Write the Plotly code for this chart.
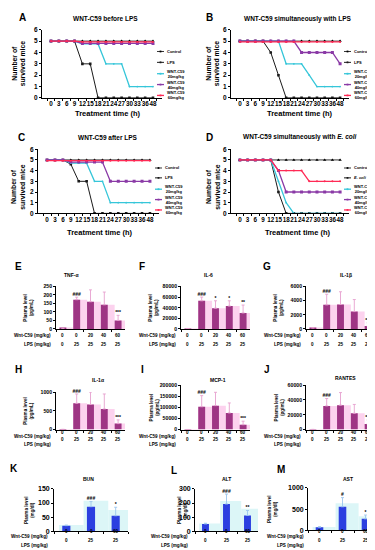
import plotly.graph_objects as go

W, H = 375, 550
FONT = "Liberation Sans, Arial, Helvetica, sans-serif"

# ---------------- Survival data (number of surviving mice) ----------------
times = ["0", "3", "6", "9", "12", "15", "18", "21", "24", "27", "30", "33", "36", "48"]

A_control = [5, 5, 5, 5, 5, 5, 5, 5, 5, 5, 5, 5, 5, 5]
A_lps = [5, 5, 5, 5, 3, 3, 0, 0, 0, 0, 0, 0, 0, 0]
A_c20 = [5, 5, 5, 5, 4.75, 4.75, 4.75, 3, 3, 3, 1, 1, 1, 1]
A_c40 = [5, 5, 5, 5, 4.8, 4.8, 4.8, 4.8, 4.8, 4.8, 4.8, 4.8, 4.8, 4.8]
A_c60 = [5, 5, 5, 5, 4.93, 4.93, 4.93, 4.93, 4.93, 4.93, 4.93, 4.93, 4.93, 4.93]

B_control = [5, 5, 5, 5, 5, 5, 5, 5, 5, 5, 5, 5, 5, 5]
B_lps = [5, 5, 5, 5, 4, 2, 0, 0, 0, 0, 0, 0, 0, 0]
B_c20 = [5, 5, 5, 5, 5, 5, 3, 3, 3, 2, 1, 1, 1, 1]
B_c40 = [5, 5, 5, 5, 5, 5, 5, 5, 4, 4, 4, 4, 4, 3]
B_c60 = [4.93, 4.93, 4.93, 4.93, 4.93, 4.93, 4.93, 4.93, 4.93, 4.93, 4.93, 4.93, 4.93, 4.93]

C_control = [5, 5, 5, 5, 5, 5, 5, 5, 5, 5, 5, 5, 5, 5]
C_lps = [5, 5, 5, 4.6, 3, 3, 0, 0, 0, 0, 0, 0, 0, 0]
C_c20 = [5, 5, 5, 4.7, 4.7, 4.7, 3, 3, 1, 1, 1, 1, 1, 1]
C_c40 = [5, 5, 5, 4.8, 4.8, 4.8, 4.8, 4.8, 3, 3, 3, 3, 3, 3]
C_c60 = [4.93, 4.93, 4.93, 4.93, 4.93, 4.93, 4.93, 4.93, 4.93, 4.93, 4.93, 4.93, 4.93, 4.93]

D_control = [5, 5, 5, 5, 5, 5, 5, 5, 5, 5, 5, 5, 5, 5]
D_ecoli = [5, 5, 5, 5, 5, 2, 0, 0, 0, 0, 0, 0, 0, 0]
D_c20 = [5, 5, 5, 5, 5, 3, 1, 0, 0, 0, 0, 0, 0, 0]
D_c40 = [5, 5, 5, 5, 5, 4, 2, 2, 2, 2, 2, 2, 2, 2]
D_c60 = [5, 5, 5, 5, 5, 4, 4, 4, 4, 3, 3, 3, 3, 3]

surv_names_lps = ["Control", "LPS", "WNT-C59<br>20mg/kg", "WNT-C59<br>40mg/kg", "WNT-C59<br>60mg/kg"]
surv_names_ecoli = ["Control", "<i>E. coli</i>", "WNT-C59<br>20mg/kg", "WNT-C59<br>40mg/kg", "WNT-C59<br>60mg/kg"]

# ---------------- Cytokine data ----------------
wnt_dose5 = ["0", "0", "20", "40", "60"]
lps_dose5 = ["0", "25", "25", "25", "25"]

tnf = [3, 172, 160, 142, 50]
tnf_err = [1, 15, 70, 75, 30]
tnf_sig = ["", "###", "", "", "***"]

il6 = [600, 53000, 39000, 43000, 30000]
il6_err = [300, 7000, 14000, 10000, 15000]
il6_sig = ["", "###", "*", "*", "**"]

il1b = [120, 3400, 3450, 2450, 400]
il1b_err = [60, 1500, 1800, 1700, 450]
il1b_sig = ["", "###", "", "", "***"]

il1a = [5, 700, 670, 550, 160]
il1a_err = [2, 250, 330, 400, 100]
il1a_sig = ["", "###", "", "", "***"]

mcp1 = [500, 103000, 108000, 75000, 22000]
mcp1_err = [200, 50000, 60000, 45000, 16000]
mcp1_sig = ["", "###", "", "", "***"]

rantes = [200, 32000, 33000, 22000, 7500]
rantes_err = [100, 10000, 17000, 12000, 5500]
rantes_sig = ["", "###", "", "", "***"]

# ---------------- Organ function data ----------------
wnt_dose3 = ["0", "0", "60"]
lps_dose3 = ["0", "25", "25"]

bun = [20, 87, 55]
bun_err = [2, 18, 30]
bun_shade = [22, 108, 75]
bun_sig = ["", "###", "*"]

alt = [52, 193, 112]
alt_err = [5, 70, 35]
alt_shade = [55, 215, 160]
alt_sig = ["", "###", "**"]

ast = [75, 555, 270]
ast_err = [10, 215, 90]
ast_shade = [80, 640, 330]
ast_sig = ["", "#", "*"]

# ---------------- helpers ----------------
fig = go.Figure()
lay = dict(width=W, height=H, margin=dict(l=0, r=0, t=0, b=0),
           paper_bgcolor="white", plot_bgcolor="white", showlegend=False,
           barmode="overlay", font=dict(family=FONT, color="black"))
annotations = []
shapes = []
count = [0]


def new_axes(x0, x1, y0, y1, xkw, ykw):
    count[0] += 1
    i = count[0]
    s = "" if i == 1 else str(i)
    lay["xaxis" + s] = dict(domain=[x0 / W, x1 / W], anchor="y" + s, **xkw)
    lay["yaxis" + s] = dict(domain=[1 - y1 / H, 1 - y0 / H], anchor="x" + s, **ykw)
    return "x" + s, "y" + s


def label(x, y, s, size, xanchor="center", angle=0, bold=True, xref="paper"):
    annotations.append(dict(
        x=x / W if xref == "paper" else x, y=1 - y / H, xref=xref, yref="paper",
        text=s, showarrow=False, xanchor=xanchor, yanchor="middle", textangle=angle,
        font=dict(size=size, family=FONT, color="black", weight="bold" if bold else "normal")))


BOLD = dict(family=FONT, color="black", weight="bold")

# ---------------- Survival panels ----------------
S_STYLE = [
    dict(color="black", width=0.8, symbol="triangle-up", size=3),
    dict(color="#1a1a1a", width=1.0, symbol="square", size=2.6),
    dict(color="#36c6d9", width=1.3, symbol="circle", size=1.8),
    dict(color="#8a3aa6", width=1.3, symbol="square", size=3),
    dict(color="#ff2a55", width=1.3, symbol="circle", size=2),
]

surv_panels = [
    ("A", "WNT-C59 before LPS", [A_control, A_lps, A_c20, A_c40, A_c60], surv_names_lps,
     (34, 154, 18, 87), (14, 6), (97, 7), (100, 103), (11, 52), 149),
    ("B", "WNT-C59 simultaneously with LPS", [B_control, B_lps, B_c20, B_c40, B_c60], surv_names_lps,
     (223, 341, 18, 87), (202, 6), (290, 7), (292, 103), (205, 52), 336),
    ("C", "WNT-C59 after LPS", [C_control, C_lps, C_c20, C_c40, C_c60], surv_names_lps,
     (30, 151, 139, 204), (13, 127), (100, 127), (92, 223), (10, 177), 147),
    ("D", "WNT-C59 simultaneously with <i>E. coli</i>", [D_control, D_ecoli, D_c20, D_c40, D_c60], surv_names_ecoli,
     (223, 341, 139, 204), (202, 127), (292, 127), (290, 223), (205, 177), 336),
]

for letter, title, series, names, box, lpos, tpos, xtpos, ylpos, legx in surv_panels:
    x0, x1, y0, y1 = box
    xa, ya = new_axes(
        x0, x1, y0, y1,
        dict(type="category", categoryorder="array", categoryarray=times, tickangle=0,
             tickmode="array", tickvals=times, ticktext=times,
             showline=True, linecolor="black", linewidth=1, ticks="outside", ticklen=2,
             tickson="boundaries", tickcolor="black", tickfont=dict(size=6.3, **BOLD),
             showgrid=False, zeroline=False),
        dict(range=[0, 6], dtick=1, showline=True, linecolor="black", linewidth=1,
             ticks="outside", ticklen=2, tickcolor="black", tickfont=dict(size=6.5, **BOLD),
             showgrid=False, zeroline=False))
    for vals, st in zip(series, S_STYLE):
        fig.add_trace(go.Scatter(x=times, y=vals, xaxis=xa, yaxis=ya, mode="lines+markers",
                                 line=dict(color=st["color"], width=st["width"]),
                                 marker=dict(color=st["color"], symbol=st["symbol"], size=st["size"]),
                                 hoverinfo="skip"))
    label(lpos[0], lpos[1], letter, 10)
    label(tpos[0], tpos[1], title, 6.5)
    label(xtpos[0], xtpos[1], "Treatment time (h)", 7.5)
    label(ylpos[0], ylpos[1], "Number of<br>survived mice", 6.8, angle=-90)
    ly = [y0 + 22, y0 + 33, y0 + 44.5, y0 + 55.5, y0 + 66.5] if y0 < 100 else \
         [y0 + 19, y0 + 29, y0 + 40.5, y0 + 51, y0 + 61.5]
    for name, st, yy in zip(names, S_STYLE, ly):
        shapes.append(dict(type="line", xref="paper", yref="paper",
                           x0=legx / W, x1=(legx + 7) / W, y0=1 - yy / H, y1=1 - yy / H,
                           line=dict(color=st["color"], width=st["width"])))
        shapes.append(dict(type="rect", xref="paper", yref="paper",
                           x0=(legx + 2.6) / W, x1=(legx + 4.4) / W,
                           y0=1 - (yy + 0.9) / H, y1=1 - (yy - 0.9) / H,
                           fillcolor=st["color"], line=dict(width=0)))
        label(legx + 8, yy, name, 4, xanchor="left")


# ---------------- Bar panels ----------------
def bar_panel(letter, title, vals, errs, shade, sig, wnt, lps, box, ymax, dtick, yunit,
              lpos, tpos, ylx, table_y, label_right, color, shade_color, err_color,
              tick_size, bar_w, shade_off):
    x0, x1, y0, y1 = box
    cats = [w + "/" + l for w, l in zip(wnt, lps)]
    n = len(cats)
    xa, ya = new_axes(
        x0, x1, y0, y1,
        dict(type="category", categoryorder="array", categoryarray=cats, range=[-0.5, n - 0.5],
             showticklabels=False, showline=True, linecolor="black", linewidth=0.8,
             ticks="outside", ticklen=2, tickson="boundaries", tickcolor="black",
             showgrid=False, zeroline=False),
        dict(range=[0, ymax], dtick=dtick, tickformat="d", showline=True, linecolor="black",
             linewidth=0.8, ticks="outside", ticklen=2, tickcolor="black",
             tickfont=dict(size=tick_size, **BOLD), showgrid=False, zeroline=False))
    fig.add_trace(go.Bar(x=cats, y=shade, xaxis=xa, yaxis=ya, width=1.0, offset=shade_off,
                         marker=dict(color=shade_color, line=dict(width=0)), hoverinfo="skip"))
    fig.add_trace(go.Bar(x=cats, y=vals, xaxis=xa, yaxis=ya, width=bar_w,
                         marker=dict(color=color, line=dict(width=0)),
                         error_y=dict(type="data", array=errs, arrayminus=[0] * n, color=err_color,
                                      thickness=0.9, width=1.5),
                         hoverinfo="skip"))
    tops = [v + e for v, e in zip(vals, errs)]
    fig.add_trace(go.Scatter(x=cats, y=tops, xaxis=xa, yaxis=ya, mode="text", text=sig,
                             textposition="top center", textfont=dict(size=5, **BOLD),
                             hoverinfo="skip", cliponaxis=False))
    label(lpos[0], lpos[1], letter, 10)
    label(tpos[0], tpos[1], title, 5)
    label(ylx, (y0 + y1) / 2, "Plasma level<br>" + yunit, 4.6, angle=-90)
    label(label_right, table_y[0], "Wnt-C59 (mg/kg)", 4.6, xanchor="right")
    label(label_right, table_y[1], "LPS (mg/kg)", 4.6, xanchor="right")
    for i, (w, l) in enumerate(zip(wnt, lps)):
        annotations.append(dict(x=i, y=1 - table_y[0] / H, xref=xa, yref="paper", text=w,
                                showarrow=False, font=dict(size=4.6, **BOLD)))
        annotations.append(dict(x=i, y=1 - table_y[1] / H, xref=xa, yref="paper", text=l,
                                showarrow=False, font=dict(size=4.6, **BOLD)))


PINK = "#9e3584"
PINK_SH = "#fcd2ee"
PINK_ERR = "#e6a0cf"
BLUE = "#2c3fe0"
BLUE_SH = "#dcf6f7"
BLUE_ERR = "#9cc6ee"

cyto = [
    ("E", "TNF-α", tnf, tnf_err, tnf_sig, 0, 1, 250, 50, (10, 258), (63, 266)),
    ("F", "IL-6", il6, il6_err, il6_sig, 125, 1, 80000, 20000, (134, 258), (200, 266)),
    ("G", "IL-1β", il1b, il1b_err, il1b_sig, 250, 1, 6000, 2000, (259, 258), (338, 266)),
    ("H", "IL-1α", il1a, il1a_err, il1a_sig, 0, 2, 1000, 500, (10, 362), (90, 373)),
    ("I", "MCP-1", mcp1, mcp1_err, mcp1_sig, 125, 2, 200000, 50000, (134, 362), (210, 373)),
    ("J", "RANTES", rantes, rantes_err, rantes_sig, 250, 2, 60000, 20000, (259, 362), (337, 371)),
]
for letter, title, vals, errs, sig, off, row, ymax, dt, lpos, tpos in cyto:
    if row == 1:
        box = (off + 48, off + 117, 278, 321)
        ty = (328, 337)
    else:
        top = 385 if letter == "H" else 378
        box = (off + 48, off + 117, top, 423)
        ty = (430, 438)
    bar_panel(letter, title, vals, errs, vals, sig, wnt_dose5, lps_dose5, box, ymax, dt, "(pg/mL)",
              lpos, tpos, off + 21, ty, off + 45, PINK, PINK_SH, PINK_ERR, 5.2, 0.5, -0.25)

organ = [
    ("K", "BUN", bun, bun_err, bun_shade, bun_sig, (46, 120, 483, 526), 150, 50, (6, 462), (80, 473), 21, 42),
    ("L", "ALT", alt, alt_err, alt_shade, alt_sig, (187, 250, 483, 526), 300, 100, (166, 464), (218, 473), 174, 182),
    ("M", "AST", ast, ast_err, ast_shade, ast_sig, (300, 369, 482, 525), 1000, 500, (273, 463), (340, 473), 264, 298),
]
for letter, title, vals, errs, shade, sig, box, ymax, dt, lpos, tpos, ylx, lr in organ:
    bar_panel(letter, title, vals, errs, shade, sig, wnt_dose3, lps_dose3, box, ymax, dt, "(mg/dl)",
              lpos, tpos, ylx, (531, 540), lr, BLUE, BLUE_SH, BLUE_ERR, 7, 0.33, -0.3)

lay["annotations"] = annotations
lay["shapes"] = shapes
fig.update_layout(**lay)
fig.write_html("out.html")
